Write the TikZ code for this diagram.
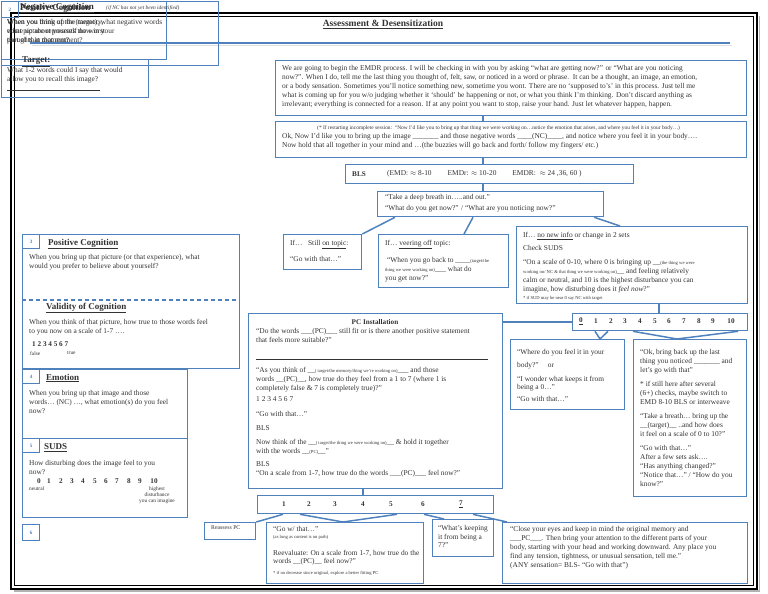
\documentclass[tikz,border=0pt]{standalone}
\usepackage{fontspec}
\setmainfont{Liberation Serif}
\usetikzlibrary{calc}
\definecolor{boxblue}{RGB}{79,129,189}
\definecolor{ink}{RGB}{50,50,50}
\newcommand{\sm}[1]{{\fontsize{4.6}{5}\selectfont #1}}

\begin{document}
\begin{tikzpicture}[x=1pt,y=-1pt,
	bx/.style={draw=boxblue,line width=1.3pt,inner sep=0pt,anchor=north west},
	tab/.style={draw=boxblue,line width=1pt,inner sep=0pt,anchor=north west,minimum width=17,minimum height=14,text=boxblue,font=\fontsize{5}{6}\selectfont\bfseries},
	txt/.style={anchor=north west,inner sep=0pt,align=left,text=ink,font=\fontsize{7.4}{9}\selectfont},
	tinytxt/.style={anchor=north west,inner sep=0pt,align=left,text=ink,font=\fontsize{5.4}{6}\selectfont},
	head/.style={anchor=west,inner sep=0pt,text=ink,font=\fontsize{9}{10}\selectfont\bfseries},
	num/.style={inner sep=0pt,text=ink,font=\fontsize{7.2}{8}\selectfont\bfseries},
	link/.style={draw=boxblue,line width=1.5pt}]
	\useasboundingbox (0,0) rectangle (768,594);
	% page frame
	\draw[black!30,line width=1.5pt] (759.5,16) -- (759.5,591) -- (14,591);
	\draw[line width=2.5pt] (11,13) rectangle (757,589);
	\draw[line width=0.8pt] (14,16) rectangle (753,585);
	\node[font=\fontsize{9.5}{11}\selectfont\bfseries,text=ink] (title) at (383,24) {\underline{Assessment \& Desensitization}};
	\draw[black!12,line width=1.5pt] (32,45.5) -- (732,45.5);
	\draw[boxblue,line width=2pt] (30,43) -- (730,43);
	
	% overlapping boxes 2 and target
	\node[bx,line width=1pt,minimum width=165,minimum height=58] (negboxa) at (1,1) {};
	\node[bx,line width=1pt,minimum width=217,minimum height=64] (negboxb) at (1,1) {};
	\node[bx,line width=1pt,minimum width=147,minimum height=38] (targetbox) at (1,59) {};
	\node[tab,minimum height=16] (tabtwo) at (1,1) {2};
	\node[head] (neghead) at (20,8) {\underline{Negative Cognition}};
	\node[head] (negheadb) at (20,8) {Positive Cognition};
	\node[tinytxt,anchor=west] (negnote) at (106,8) {\textit{(if NC has not yet been identified)}};
	\node[txt] (negtext) at (7,19) {When you think of the (target), what negative words\\ come up about yourself now in your\\ thoughts in that moment?};
	\node[txt] (negtextb) at (7,19) {When you bring up the memory,\\ what picture represents the worst\\ part of that moment?};
	\node[head] (targethead) at (22,62) {\underline{Target:}};
	\node[txt] (targettext) at (7,67) {What 1-2 words could I say that would\\ allow you to recall this image?\\ \rule{93pt}{0.5pt}};
	
	% left column
	\node[bx,minimum width=217,minimum height=134] (poscog) at (22,234) {};
	\draw[boxblue,line width=1.2pt,dash pattern=on 4pt off 3pt] (poscog.west |- 0,300) -- (poscog.east |- 0,300);
	\node[bx,minimum width=165,minimum height=69] (emotion) at (22,369) {};
	\node[bx,minimum width=165,minimum height=79] (suds) at (22,438) {};
	\node[tab] (tabthree) at (22,234) {3};
	\node[tab] (tabfour) at (22,369) {4};
	\node[tab] (tabfive) at (22,438) {5};
	\node[tab,minimum height=16] (tabsix) at (22,524) {6};
	\node[head] (poshead) at (48,244) {\underline{Positive Cognition}};
	\node[txt] (postext) at (29,254) {When you bring up that picture (or that experience), what\\ would you prefer to believe about yourself?};
	\node[head] (vochead) at (46,308) {\underline{Validity of Cognition}};
	\node[txt] (voctext) at (29,319) {When you think of that picture, how true to those words feel\\ to you now on a scale of 1-7 ….};
	\node[num,anchor=west] (vocnums) at (32,344) {1 2 3 4 5 6 7};
	\node[tinytxt] (voclow) at (30,351) {false};
	\node[tinytxt] (vochigh) at (67,351) {true};
	\node[head] (emohead) at (46,378) {\underline{Emotion}};
	\node[txt] (emotext) at (29,390) {When you bring up that image and those\\ words… (NC) …, what emotion(s) do you feel\\ now?};
	\node[head] (sudshead) at (44,448) {\underline{SUDS}};
	\node[txt] (sudstext) at (29,460) {How disturbing does the image feel to you\\ now?};
	\foreach \v/\x in {0/39,1/49,2/61,3/72,4/83,5/95,6/106,7/117,8/129,9/140,10/154}
		\node[num] (sudleft\v) at (\x,481) {\v};
	\node[tinytxt] (sudslow) at (29,487) {neutral};
	\node[tinytxt,align=center,anchor=north] (sudshigh) at (157,487) {highest\\ disturbance\\ you can imagine};
	
	% main flow
	\node[bx,minimum width=471,minimum height=55] (intro) at (275,60) {};
	\node[bx,minimum width=471,minimum height=36] (resume) at (275,121) {};
	\node[bx,minimum width=288,minimum height=19] (bls) at (345,164) {};
	\node[bx,minimum width=226,minimum height=25] (breath) at (377,191) {};
	\node[bx,minimum width=78,minimum height=35] (still) at (283,234) {};
	\node[bx,minimum width=130,minimum height=53] (veer) at (378,234) {};
	\node[bx,minimum width=231,minimum height=77] (nonew) at (516,226) {};
	\node[bx,minimum width=175,minimum height=17] (sudscale) at (572,313) {};
	\node[bx,minimum width=114,minimum height=70] (where) at (510,339) {};
	\node[bx,minimum width=113,minimum height=157] (goback) at (633,339) {};
	\node[bx,minimum width=254,minimum height=175] (pcinst) at (248,313) {};
	\node[bx,minimum width=236,minimum height=18] (pcscale) at (257,495) {};
	\node[bx,minimum width=51,minimum height=17] (reassess) at (204,522) {};
	\node[bx,minimum width=157,minimum height=61] (gowith) at (266,522) {};
	\node[bx,minimum width=61,minimum height=37] (keeping) at (432,519) {};
	\node[bx,minimum width=245,minimum height=61] (closeeyes) at (502,522) {};
	
	\node[txt] (introtext) at (282,65) {We are going to begin the EMDR process. I will be checking in with you by asking ``what are getting now?'' or ``What are you noticing\\ now?''. When I do, tell me the last thing you thought of, felt, saw, or noticed in a word or phrase.\ \ It can be a thought, an image, an emotion,\\ or a body sensation. Sometimes you'll notice something new, sometime you wont. There are no `supposed to's' in this process. Just tell me\\ what is coming up for you w/o judging whether it `should' be happening or not, or what you think I'm thinking. Don't discard anything as\\ irrelevant; everything is connected for a reason. If at any point you want to stop, raise your hand. Just let whatever happen, happen.};
	\node[tinytxt] (resumenote) at (317,125) {(* If restarting incomplete session:\ \ ``Now I'd like you to bring up that thing we were working on…notice the emotion that arises, and where you feel it in your body…)};
	\node[txt] (resumetext) at (282,133) {Ok, Now I'd like you to bring up the image \_\_\_\_\_\_\_ and those negative words \_\_\_\_(NC)\_\_\_\_, and notice where you feel it in your body….\\ Now hold that all together in your mind and …(the buzzies will go back and forth/ follow my fingers/ etc.)};
	\node[num,anchor=west] (blslabel) at (352,174) {BLS};
	\node[txt,anchor=west] (blsrate) at (387,174) {(EMD: $\approx$ 8-10\hspace{16pt}EMDr: $\approx$ 10-20\hspace{16pt}EMDR:\ \ $\approx$ 24 ,36, 60 )};
	\node[txt] (breathtext) at (385,194) {``Take a deep breath in…..and out.''\\[2pt] ``What do you get now?'' / ``What are you noticing now?''};
	\node[txt] (stilltext) at (290,240) {If…\ \ \ Still \underline{on topic}:\\[7pt] ``Go with that…''};
	\node[txt] (veertext) at (385,240) {If… \underline{veering off} topic:\\[8pt] \ ``When you go back to \_\_\_\_\sm{(target/the}\\ \sm{thing we were working on)}\_\_\_ what do\\ you get now?''};
	\node[txt] (nonewtext) at (523,232) {If… \underline{no new info} or change in 2 sets\\[4pt] Check SUDS\\[5pt] ``On a scale of 0-10, where 0 is bringing up \_\_\sm{(the thing we were}\\ \sm{working on/ NC \& that thing we were working on)}\_\_ and feeling relatively\\ calm or neutral, and 10 is the highest disturbance you can\\ imagine, how disturbing does it \emph{feel now}?''\\[-1pt] \sm{* if SUD may be near 0 say NC with target}};
	\node[num] (sudnum0) at (581,321) {\underline{0}};
	\foreach \v/\x in {1/596,2/611,3/625,4/640,5/655,6/669,7/684,8/699,9/713,10/731}
		\node[num] (sudnum\v) at (\x,321) {\v};
	\node[txt] (wheretext) at (517,349) {``Where do you feel it in your\\[4pt] body?''\ \ \ \ \ or\\[5pt] ``I wonder what keeps it from\\[-1pt] being a 0…''\\[3pt] ``Go with that…''};
	\node[txt] (gobacktext) at (640,349) {``Ok, bring back up the last\\ thing you noticed \_\_\_\_\_\_\_ and\\ let's go with that''\\[5pt] * if still here after several\\ (6+) checks, maybe switch to\\ EMD 8-10 BLS or interweave\\[5pt] ``Take a breath… bring up the\\ \_\_(target)\_\_ ..and how does\\ it feel on a scale of 0 to 10?''\\[5pt] ``Go with that…''\\ After a few sets ask….\\ ``Has anything changed?''\\ ``Notice that…'' / ``How do you\\ know?''};
	\node[num] (pctitle) at (375,322) {PC Installation};
	\node[txt] (pctext) at (256,328) {``Do the words \_\_\_(PC)\_\_\_ still fit or is there another positive statement\\ that feels more suitable?''\\[8pt] \rule{232pt}{0.5pt}\\[4pt] ``As you think of \_\_\sm{( target/the memory/thing we're working on)}\_\_\_ and those\\ words \_\_(PC)\_\_, how true do they feel from a 1 to 7 (where 1 is\\ completely false \& 7 is completely true)?''\\[2pt] 1 2 3 4 5 6 7\\[6pt] ``Go with that…''\\[5pt] BLS\\[5pt] Now think of the \_\_\sm{( target/the thing we were working on)}\_\_ \& hold it together\\ with the words \_\_\sm{(PC)}\_\_''\\[4pt] BLS\\ ``On a scale from 1-7, how true do the words \_\_\_(PC)\_\_\_ feel now?''};
	\foreach \v/\x in {1/284,2/309,3/335,4/363,5/391,6/423}
		\node[num] (pcnum\v) at (\x,504) {\v};
	\node[num] (pcnum7) at (461,504) {\underline{7}};
	\node[tinytxt,font=\fontsize{5.8}{7}\selectfont] (reassesstext) at (211,525) {Reassess PC};
	\node[txt] (gowithtext) at (273,526) {``Go w/ that…''\\[-2pt] \sm{(as long as content is on path)}\\[8pt] Reevaluate: On a scale from 1-7, how true do the\\[-1pt] words \_\_(PC)\_\_ feel now?''\\[2pt] \sm{* if no decrease since original, explore a better fitting PC}};
	\node[txt] (keepingtext) at (438,525) {``What's keeping\\ it from being a\\[-1pt] 7?''};
	\node[txt] (closetext) at (510,526) {``Close your eyes and keep in mind the original memory and\\ \_\_\_PC\_\_\_. Then bring your attention to the different parts of your\\ body, starting with your head and working downward. Any place you\\ find any tension, tightness, or unusual sensation, tell me.''\\ (ANY sensation= BLS- ``Go with that'')};
	
	% connectors
	\coordinate (spine) at (483,0);
	\coordinate (sudspine) at (659,0);
	\coordinate (pcspine) at (363,0);
	\draw[link] (intro.south -| spine) -- (resume.north -| spine);
	\draw[link] (resume.south -| spine) -- (bls.north -| spine);
	\draw[link] (bls.south -| spine) -- (breath.north -| spine);
	\draw[link] ($(breath.south west)+(18,0)$) -- (still.north east);
	\draw[link] ($(breath.south west)+(96,0)$) -- ($(veer.north west)+(86,0)$);
	\draw[link] ($(breath.south east)+(-10,0)$) -- ($(nonew.north west)+(104,0)$);
	\draw[link] (nonew.south -| sudspine) -- (sudscale.north -| sudspine);
	\draw[link] (sudscale.west) -- (pcinst.east |- sudscale.west);
	\draw[link] ($(sudscale.south west)+(23,0)$) -- ($(where.north west)+(90,0)$) -- ($(sudscale.south west)+(36,0)$);
	\draw[link] ($(sudscale.south west)+(61,0)$) -- ($(goback.north west)+(44,0)$) -- ($(sudscale.south west)+(166,0)$);
	\draw[link] (pcinst.south -| pcspine) -- (pcscale.north -| pcspine);
	\draw[link] ($(pcscale.south west)+(26,0)$) -- (reassess.north east);
	\draw[link] ($(pcscale.south west)+(43,0)$) -- ($(gowith.north west)+(77,0)$) -- ($(pcscale.south west)+(140,0)$);
	\draw[link] ($(pcscale.south west)+(167,0)$) -- ($(keeping.north west)+(12,0)$);
	\draw[link] ($(pcscale.south west)+(216,0)$) -- ($(closeeyes.north west)+(5,0)$);
\end{tikzpicture}
\end{document}
